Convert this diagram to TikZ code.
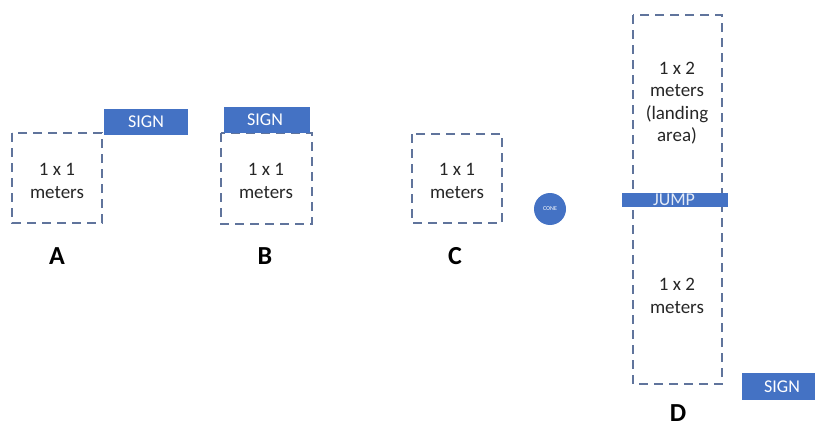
\documentclass[tikz,border=0pt]{standalone}
\usepackage{fontspec}
\setmainfont{Carlito}
\definecolor{signblue}{RGB}{68,114,196}
\definecolor{dashgray}{RGB}{96,116,156}
\begin{document}
\begin{tikzpicture}[x=1pt,y=-1pt,
  area/.style={draw=dashgray,line width=1.6pt,dash pattern=on 9pt off 6pt},
  sign/.style={fill=signblue,draw=none},
  signtext/.style={text=white,font=\fontsize{18}{18}\selectfont},
  body/.style={align=center,font=\fontsize{19}{22.5}\selectfont,text=black!85},
  lab/.style={font=\fontsize{26}{26}\selectfont\bfseries,text=black}]
\useasboundingbox (0,0) rectangle (815,423);
% A
\draw[area] (12,133) rectangle (102,223);
\node[body] (ta) at (57,181) {1 x 1\\meters};
\fill[sign] (104,109) rectangle (188,135);
\node[signtext] (sa) at (146,122) {SIGN};
\node[lab] (la) at (57,256) {A};
% B
\draw[area] (221,133) rectangle (312,224);
\node[body] (tb) at (266,181) {1 x 1\\meters};
\fill[sign] (224,107) rectangle (310,133);
\node[signtext] (sb) at (265,120) {SIGN};
\node[lab] (lb) at (265,256) {B};
% C
\draw[area] (412,134) rectangle (502,223);
\node[body] (tc) at (457,181) {1 x 1\\meters};
\node[lab] (lc) at (455,256) {C};
\node[circle,fill=signblue,minimum size=32pt,inner sep=0pt,text=white,font=\fontsize{6}{6}\selectfont] (cone) at (550,209) {CONE};
% D
\draw[area] (633,15) rectangle (722,384);
\node[body] (td1) at (677,103) {1 x 2\\meters\\(landing\\area)};
\node[body] (td2) at (677,296) {1 x 2\\meters};
\fill[sign] (622,193) rectangle (728,207);
\node[text=white!85!signblue,font=\fontsize{18}{18}\selectfont] (jump) at (674,200) {JUMP};
\fill[sign] (742,373) rectangle (815,400);
\node[signtext] (sd) at (782,387) {SIGN};
\node[lab] (ld) at (678,413) {D};
\end{tikzpicture}
\end{document}
